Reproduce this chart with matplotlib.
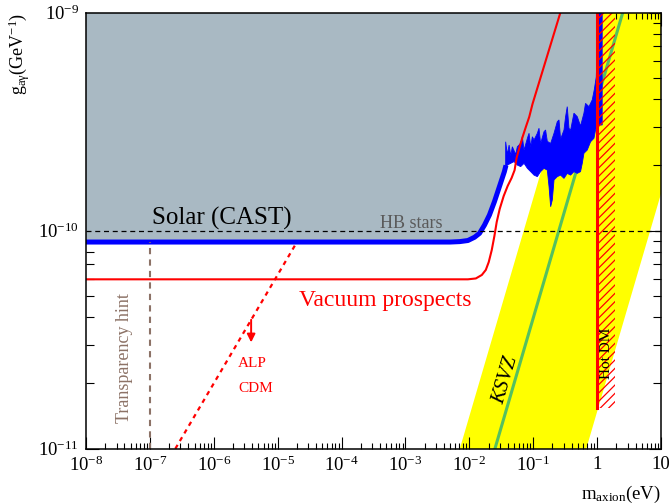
import numpy as np
import matplotlib.pyplot as plt
from matplotlib.ticker import LogLocator, NullFormatter

plt.rcParams['font.family'] = 'Liberation Serif'
plt.rcParams['mathtext.fontset'] = 'custom'
plt.rcParams['mathtext.rm'] = 'Liberation Serif'
plt.rcParams['mathtext.it'] = 'Liberation Serif:italic'
plt.rcParams['hatch.linewidth'] = 0.9

# ---- data (log10 of m in eV and of g in GeV^-1) ----
# CAST solar limit, smooth part
cast_logm = [-8.0, -2.3, -2.15, -2.023, -1.919, -1.841, -1.763, -1.686, -1.608, -1.530, -1.452, -1.427]
cast_logg = [-10.052, -10.052, -10.050, -10.045, -10.030, -10.012, -9.974, -9.928, -9.867, -9.798, -9.729, -9.700]

# CAST high mass (buffer gas) region: upper and lower edge of the jagged band
noise_up_logm = [-1.432, -1.405, -1.378, -1.353, -1.327, -1.275, -1.249, -1.197, -1.171, -1.144,
                 -1.092, -1.066, -1.041, -1.014, -0.988, -0.936, -0.910, -0.885, -0.832, -0.807,
                 -0.780, -0.728, -0.675, -0.624, -0.597, -0.572, -0.519, -0.494, -0.468, -0.441,
                 -0.416, -0.363, -0.311, -0.260, -0.207, -0.182, -0.128, -0.077, -0.046, -0.014,
                 0.017, 0.079]
noise_up_logg = [-9.592, -9.650, -9.607, -9.655, -9.615, -9.650, -9.615, -9.599, -9.569, -9.630,
                 -9.576, -9.553, -9.615, -9.569, -9.584, -9.553, -9.530, -9.600, -9.546, -9.538,
                 -9.590, -9.600, -9.553, -9.500, -9.492, -9.580, -9.538, -9.477, -9.431, -9.530,
                 -9.540, -9.461, -9.477, -9.520, -9.461, -9.416, -9.431, -9.400, -9.355, -9.295,
                 -9.0, -9.0]
noise_lo_logm = [-1.432, -1.405, -1.353, -1.300, -1.249, -1.197, -1.144, -1.092, -1.041, -0.988,
                 -0.936, -0.885, -0.832, -0.780, -0.753, -0.728, -0.702, -0.675, -0.624, -0.572,
                 -0.519, -0.468, -0.416, -0.363, -0.311, -0.260, -0.233, -0.207, -0.155, -0.103,
                 -0.050, -0.025, 0.001, 0.079]
noise_lo_logg = [-9.712, -9.699, -9.691, -9.683, -9.699, -9.706, -9.691, -9.714, -9.729, -9.745,
                 -9.752, -9.729, -9.714, -9.722, -9.798, -9.890, -9.859, -9.767, -9.752, -9.745,
                 -9.760, -9.737, -9.745, -9.729, -9.737, -9.729, -9.691, -9.645, -9.630, -9.592,
                 -9.576, -9.538, -9.515, -9.515]

# vacuum prospects
vac_logm = [-8.0, -2.023, -1.899, -1.805, -1.743, -1.697, -1.650, -1.608, -1.572, -1.525, -1.463,
            -1.401, -1.339, -1.292, -1.261, -1.214, -1.167, -1.116, -1.063, -1.012, -0.576]
vac_logg = [-10.223, -10.223, -10.219, -10.203, -10.180, -10.144, -10.089, -10.024, -9.960, -9.900,
            -9.841, -9.795, -9.758, -9.722, -9.666, -9.616, -9.570, -9.524, -9.478, -9.419, -9.0]

# QCD axion band and KSVZ line
band_m = [1e-3, 10.0]
band_lo = [1.48e-14, 1.48e-10]
band_hi = [1.41e-12, 1.41e-8]
ksvz_m = [1e-3, 10.0]
ksvz_g = [3.98e-13, 3.98e-9]

# ALP cold dark matter line
alp_m = [2.5e-7, 2.0e-5]
alp_g = [1e-11, 8.87e-11]

hb_g = 1e-10
trans_m = 1e-7
cast_flat_g = 8.87e-11
hotdm_m = 1.0
hotdm_edge = 1.9
hotdm_gmin = 1.53e-11

xticks = [1e-8, 1e-7, 1e-6, 1e-5, 1e-4, 1e-3, 1e-2, 1e-1, 1, 10]
xticklabels = [r'$\mathregular{10^{-8}}$', r'$\mathregular{10^{-7}}$', r'$\mathregular{10^{-6}}$',
               r'$\mathregular{10^{-5}}$', r'$\mathregular{10^{-4}}$', r'$\mathregular{10^{-3}}$',
               r'$\mathregular{10^{-2}}$', r'$\mathregular{10^{-1}}$', '1', '10']
yticks = [1e-11, 1e-10, 1e-9]
yticklabels = [r'$\mathregular{10^{-11}}$', r'$\mathregular{10^{-10}}$', r'$\mathregular{10^{-9}}$']

cast_m = np.power(10.0, cast_logm)
cast_g = np.power(10.0, cast_logg)
up_m = np.power(10.0, noise_up_logm)
up_g = np.power(10.0, noise_up_logg)
lo_m = np.power(10.0, noise_lo_logm)
lo_g = np.power(10.0, noise_lo_logg)
vac_m = np.power(10.0, vac_logm)
vac_g = np.power(10.0, vac_logg)

fig = plt.figure(figsize=(6.72, 5.04), dpi=100)
ax = fig.add_axes([0.128, 0.1097, 0.8557, 0.8651])
ax.set_xscale('log')
ax.set_yscale('log')
ax.set_xlim(1e-8, 10)
ax.set_ylim(1e-11, 1e-9)

# axion band + KSVZ
ax.fill_between(band_m, band_lo, band_hi, color='#ffff00', lw=0, zorder=1)
ax.plot(ksvz_m, ksvz_g, color='#55c060', lw=2.2, zorder=1.5)

# CAST excluded region
gray_m = np.concatenate([cast_m, up_m, [1e-8]])
gray_g = np.concatenate([cast_g, up_g, [1e-9]])
ax.fill(gray_m, gray_g, color='#a9b9c3', lw=0, zorder=2)
ax.plot(cast_m, cast_g, color='blue', lw=3.6, solid_capstyle='butt', zorder=3)
ax.fill(np.concatenate([up_m, lo_m[::-1]]), np.concatenate([up_g, lo_g[::-1]]),
        color='blue', lw=0.6, zorder=3)

# HB stars
ax.axhline(hb_g, color='black', lw=0.9, dashes=(4, 3), zorder=4)

# vacuum prospects
ax.plot(vac_m, vac_g, color='red', lw=1.5, zorder=4)

# ALP CDM
ax.plot(alp_m, alp_g, color='red', lw=1.6, dashes=(2, 2), zorder=4)
ax.annotate('', xy=(3.84e-6, 10**-10.525), xytext=(3.84e-6, 10**-10.396),
            arrowprops=dict(arrowstyle='-|>', color='red', lw=1.4, mutation_scale=12), zorder=4)

# transparency hint
ax.plot([trans_m, trans_m], [1e-11, cast_flat_g], color='#8c7266', lw=1.5, dashes=(3, 2.5), zorder=4)

# hot dark matter
ax.fill_between([hotdm_m, hotdm_edge], hotdm_gmin, 1e-9, facecolor='none', edgecolor='red',
                hatch='////', lw=0, zorder=4)
ax.plot([hotdm_m, hotdm_m], [hotdm_gmin, 1e-9], color='red', lw=2.2, zorder=5)

# texts
ax.text(10**-6.973, 10**-9.974, 'Solar (CAST)', fontsize=18, va='baseline', ha='left', zorder=6)
ax.text(10**-3.393, 10**-9.986, 'HB stars', color='#5a5a5a', fontsize=13, va='baseline', zorder=6)
ax.text(10**-4.669, 10**-10.345, 'Vacuum prospects', color='red', fontsize=17, va='baseline', zorder=6)
ax.text(10**-7.393, 10**-10.584, 'Transparency hint', rotation=90, color='#8c7266', fontsize=13,
        ha='center', va='center', zorder=6)
ax.text(10**-5.619, 10**-10.607, 'ALP', color='red', fontsize=11, va='center', zorder=6)
ax.text(10**-5.619, 10**-10.722, 'CDM', color='red', fontsize=11, va='center', zorder=6)
ax.text(10**-1.432, 10**-10.686, 'KSVZ', rotation=73.6, style='italic', fontsize=15,
        ha='center', va='center', zorder=6)
ax.text(10**0.14, 10**-10.562, 'Hot DM', rotation=90, fontsize=11, ha='center', va='center', zorder=6)

# axes
ax.set_xticks(xticks)
ax.set_xticklabels(xticklabels, fontsize=13.5)
ax.set_yticks(yticks)
ax.set_yticklabels(yticklabels, fontsize=13.5)
ax.xaxis.set_minor_locator(LogLocator(base=10, subs=np.arange(2, 10), numticks=100))
ax.yaxis.set_minor_locator(LogLocator(base=10, subs=np.arange(2, 10), numticks=100))
ax.xaxis.set_minor_formatter(NullFormatter())
ax.yaxis.set_minor_formatter(NullFormatter())
ax.tick_params(which='both', direction='in', top=True, right=True, width=0.8)
ax.tick_params(which='major', length=9, pad=5)
ax.tick_params(axis='x', which='minor', length=4.5)
ax.tick_params(axis='y', which='minor', length=5.5)
for s in ax.spines.values():
    s.set_linewidth(1.1)
    s.set_zorder(7)

ax.set_xlabel(r'$\mathregular{m_{axion}(eV)}$', fontsize=13.5, loc='right')
ax.xaxis.set_label_coords(1.0, -0.081)
ax.set_ylabel(r'$\mathregular{g_{a\gamma}(GeV^{-1})}$', fontsize=13, loc='top')
ax.yaxis.set_label_coords(-0.094, 1.0)

fig.savefig('out.png', dpi=100)
